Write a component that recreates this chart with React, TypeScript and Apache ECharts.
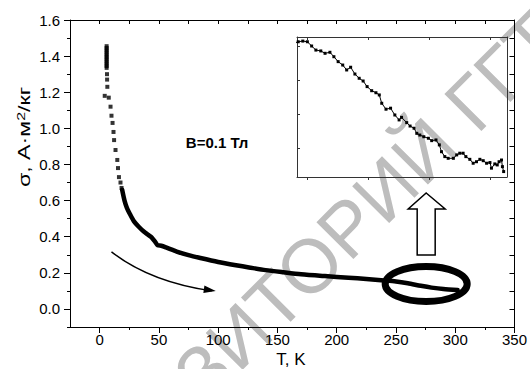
import React, { useEffect, useRef } from "react";
import * as echarts from "echarts";

const FONT = '"Liberation Sans", Arial, sans-serif';

// main axes ticks
const xMajor = [0, 50, 100, 150, 200, 250, 300, 350];
const xMinor = [25, 75, 125, 175, 225, 275, 325];
const xTop = [0, 25, 50, 75, 100, 125, 150, 175, 200, 225, 250, 275, 300, 325, 350];
const yMajor = [0, 0.2, 0.4, 0.6, 0.8, 1.0, 1.2, 1.4, 1.6];
const yMinor = [-0.1, 0.1, 0.3, 0.5, 0.7, 0.9, 1.1, 1.3, 1.5];
const yRight = [-0.1, 0, 0.1, 0.2, 0.3, 0.4, 0.5, 0.6, 0.7, 0.8, 0.9, 1.0, 1.1, 1.2, 1.3, 1.4, 1.5];

// inset axes ticks
const insetX = [240, 260, 280, 300];
const insetY = [0.1, 0.12, 0.14, 0.16];

// sparse low-temperature points (T, sigma)
const sparsePoints: [number, number][] = [
  [5.9, 1.455], [5.9, 1.445], [5.9, 1.435], [5.9, 1.425], [5.9, 1.415], [5.9, 1.405],
  [5.9, 1.395], [5.9, 1.385], [5.9, 1.375], [5.9, 1.365], [5.9, 1.355], [5.9, 1.345],
  [5.9, 1.335], [6.2, 1.3], [6.3, 1.27], [6.5, 1.23], [4.3, 1.18], [7.7, 1.17],
  [9.2, 1.12], [10.0, 1.07], [10.9, 1.03], [11.7, 0.98], [12.2, 0.935], [13.4, 0.88],
  [14.9, 0.825], [15.5, 0.78], [16.3, 0.73], [17.6, 0.7], [18.5, 0.67],
];

// dense curve (T, sigma)
const curvePoints: [number, number][] = [
  [19, 0.66], [21, 0.6], [23, 0.56], [26, 0.52], [29, 0.485], [33, 0.455], [37, 0.43],
  [41, 0.41], [44, 0.395], [47, 0.37], [49, 0.352], [52, 0.35], [57, 0.338], [65, 0.318],
  [75, 0.298], [85, 0.282], [100, 0.26], [115, 0.242], [126, 0.23], [140, 0.215],
  [155, 0.203], [170, 0.192], [190, 0.182], [210, 0.173], [225, 0.166], [240, 0.158],
  [250, 0.152], [260, 0.142], [271, 0.128], [280, 0.118], [290, 0.11], [302, 0.105],
];

// inset data (T, sigma)
const insetPoints: [number, number][] = [
  [235.7, 0.1616], [237.1, 0.1625], [238.6, 0.1629], [240.1, 0.1625], [241.5, 0.16],
  [242.9, 0.1576], [244.5, 0.1571], [245.9, 0.1557], [247.5, 0.1563], [248.8, 0.1537],
  [250.2, 0.1508], [251.7, 0.1488], [253.0, 0.1459], [254.3, 0.1475], [255.7, 0.1435],
  [257.1, 0.141], [258.4, 0.1394], [259.7, 0.1361], [261.2, 0.1337], [262.6, 0.1325],
  [263.7, 0.1312], [264.5, 0.1263], [265.9, 0.1228], [267.4, 0.1234], [268.8, 0.1194],
  [270.2, 0.1165], [271.0, 0.118], [272.7, 0.1149], [273.8, 0.1129], [275.1, 0.1116],
  [276.0, 0.1086], [277.0, 0.1076], [278.3, 0.1066], [279.8, 0.1057], [280.9, 0.1043],
  [282.3, 0.1047], [283.4, 0.1018], [284.1, 0.0978], [285.2, 0.0949], [286.3, 0.0939],
  [288.0, 0.0939], [289.1, 0.0959], [290.1, 0.0969], [291.2, 0.0969], [292.1, 0.0949],
  [293.4, 0.0933], [294.5, 0.091], [295.6, 0.0919], [296.7, 0.0933], [297.8, 0.0925],
  [298.9, 0.091], [300.0, 0.0914], [300.5, 0.0881], [301.6, 0.0906], [302.4, 0.09],
  [303.0, 0.0919], [303.8, 0.0929], [304.1, 0.089], [304.5, 0.0861],
];

// annotation anchors in data coordinates
const ellipseCenter: [number, number] = [275.5, 0.138];
const hollowArrowTip: [number, number] = [275.5, 0.642];
const sweepStart: [number, number] = [10, 0.316];
const sweepCtrl: [number, number] = [42.7, 0.149];
const sweepEnd: [number, number] = [94.6, 0.1];

const fieldLabel = "B=0.1 Тл";
const xName = "T, K";
const watermark = "РЕПОЗИТОРИЙ ГГТУ";

const lineBlack = { color: "#000", width: 1 };

export default function App() {
  const ref = useRef<HTMLDivElement>(null);
  useEffect(() => {
    if (!ref.current) return;
    const chart = echarts.init(ref.current, undefined, { renderer: "svg" });
    const baseX = { type: "value" as const, min: -25, max: 350, splitLine: { show: false } };
    const baseY = { type: "value" as const, min: -0.1, max: 1.6, splitLine: { show: false } };
    const iX = { type: "value" as const, min: 236.7, max: 305.6, splitLine: { show: false } };
    const iY = { type: "value" as const, min: 0.0829, max: 0.1653, splitLine: { show: false } };
    chart.setOption({
      animation: false,
      backgroundColor: "#fff",
      grid: [
        { left: 70, top: 20, width: 447, height: 307 },
        { left: 297, top: 37, width: 210, height: 140 },
      ],
      xAxis: [
        {
          ...baseX, gridIndex: 0, position: "bottom",
          axisLine: { show: true, onZero: false, lineStyle: lineBlack },
          axisTick: { show: true, length: 6, customValues: xMajor, lineStyle: lineBlack },
          axisLabel: { show: true, customValues: xMajor, fontSize: 15, color: "#000", fontFamily: FONT, margin: 5 },
        },
        {
          ...baseX, gridIndex: 0, position: "bottom",
          axisLine: { show: false, onZero: false },
          axisTick: { show: true, length: 3, customValues: xMinor, lineStyle: lineBlack },
          axisLabel: { show: false },
        },
        {
          ...baseX, gridIndex: 0, position: "top",
          axisLine: { show: true, onZero: false, lineStyle: lineBlack },
          axisTick: { show: true, inside: true, length: 4, customValues: xTop, lineStyle: lineBlack },
          axisLabel: { show: false },
        },
        {
          ...iX, gridIndex: 1, position: "bottom",
          axisLine: { show: true, onZero: false, lineStyle: { color: "#333", width: 1 } },
          axisTick: { show: true, length: 3, customValues: insetX, lineStyle: { color: "#333" } },
          axisLabel: { show: false },
        },
        {
          ...iX, gridIndex: 1, position: "top",
          axisLine: { show: true, onZero: false, lineStyle: { color: "#333", width: 1 } },
          axisTick: { show: true, inside: true, length: 3, customValues: insetX, lineStyle: { color: "#333" } },
          axisLabel: { show: false },
        },
      ],
      yAxis: [
        {
          ...baseY, gridIndex: 0, position: "left",
          axisLine: { show: true, onZero: false, lineStyle: lineBlack },
          axisTick: { show: true, length: 6, customValues: yMajor, lineStyle: lineBlack },
          axisLabel: {
            show: true, customValues: yMajor, fontSize: 15, color: "#000", fontFamily: FONT, margin: 10,
            formatter: (v: number) => v.toFixed(1),
          },
        },
        {
          ...baseY, gridIndex: 0, position: "left",
          axisLine: { show: false, onZero: false },
          axisTick: { show: true, length: 3, customValues: yMinor, lineStyle: lineBlack },
          axisLabel: { show: false },
        },
        {
          ...baseY, gridIndex: 0, position: "right",
          axisLine: { show: true, onZero: false, lineStyle: lineBlack },
          axisTick: { show: true, inside: true, length: 5, customValues: yRight, lineStyle: lineBlack },
          axisLabel: { show: false },
        },
        {
          ...iY, gridIndex: 1, position: "left",
          axisLine: { show: true, onZero: false, lineStyle: { color: "#333", width: 1 } },
          axisTick: { show: true, inside: true, length: 3, customValues: insetY, lineStyle: { color: "#333" } },
          axisLabel: { show: false },
        },
        {
          ...iY, gridIndex: 1, position: "right",
          axisLine: { show: true, onZero: false, lineStyle: { color: "#333", width: 1 } },
          axisTick: { show: false },
          axisLabel: { show: false },
        },
      ],
      series: [
        {
          type: "line", xAxisIndex: 0, yAxisIndex: 0, data: curvePoints,
          symbol: "none", smooth: 0.25, z: 3,
          lineStyle: { color: "#000", width: 4.5, join: "round", cap: "round" },
        },
        {
          type: "scatter", xAxisIndex: 0, yAxisIndex: 0, data: sparsePoints,
          symbol: "rect", symbolSize: 4, itemStyle: { color: "#000" }, z: 3,
        },
        {
          type: "line", xAxisIndex: 3, yAxisIndex: 3, data: insetPoints,
          symbol: "rect", symbolSize: 3, showSymbol: true, z: 4,
          lineStyle: { color: "#000", width: 1 }, itemStyle: { color: "#000" },
        },
      ],
    });

    const px = (p: [number, number]) => chart.convertToPixel({ xAxisIndex: 0, yAxisIndex: 0 }, p) as number[];
    const c = px(ellipseCenter);
    const tip = px(hollowArrowTip);
    const s0 = px(sweepStart);
    const s1 = px(sweepCtrl);
    const s2 = px(sweepEnd);
    const ang = Math.atan2(s2[1] - s1[1], s2[0] - s1[0]);
    const hx = (d: number, w: number) => [
      s2[0] + 4 + Math.cos(ang) * d - Math.sin(ang) * w,
      s2[1] + Math.sin(ang) * d + Math.cos(ang) * w,
    ];

    chart.setOption({
      graphic: [
        {
          type: "text", x: 35, y: 540, rotation: Math.PI / 4, z: 0, silent: true,
          style: {
            text: watermark, fill: "#bdbdbd", font: `76px ${FONT}`,
            textAlign: "left", textVerticalAlign: "middle",
          },
        },
        {
          type: "ellipse", z: 100, silent: true,
          shape: { cx: c[0], cy: c[1], rx: 41, ry: 17.5 },
          style: { fill: "none", stroke: "#000", lineWidth: 7 },
        },
        {
          type: "polygon", z: 100, silent: true,
          shape: {
            points: [
              [tip[0], tip[1]], [tip[0] + 19, tip[1] + 16], [tip[0] + 9, tip[1] + 16],
              [tip[0] + 9, tip[1] + 62], [tip[0] - 9, tip[1] + 62], [tip[0] - 9, tip[1] + 16],
              [tip[0] - 18, tip[1] + 16],
            ],
          },
          style: { fill: "#fff", stroke: "#000", lineWidth: 1.5 },
        },
        {
          type: "bezierCurve", z: 100, silent: true,
          shape: { x1: s0[0], y1: s0[1], cpx1: s1[0], cpy1: s1[1], x2: s2[0], y2: s2[1] },
          style: { fill: "none", stroke: "#000", lineWidth: 1.5 },
        },
        {
          type: "polygon", z: 100, silent: true,
          shape: { points: [hx(0, 0), hx(-12, -3.8), hx(-12, 3.8)] },
          style: { fill: "#000" },
        },
        {
          type: "text", x: 217, y: 142, z: 100, silent: true,
          style: {
            text: fieldLabel, fill: "#000", font: `bold 15px ${FONT}`,
            textAlign: "center", textVerticalAlign: "middle",
          },
        },
        {
          type: "text", x: 291, y: 359, z: 100, silent: true,
          style: {
            text: xName, fill: "#000", font: `17px ${FONT}`,
            textAlign: "center", textVerticalAlign: "middle",
          },
        },
        {
          type: "text", x: 24, y: 137, rotation: Math.PI / 2, scaleX: 1.45, z: 100, silent: true,
          style: {
            text: "σ, А·м{s|2}/кг", fill: "#000", font: `16px ${FONT}`,
            textAlign: "center", textVerticalAlign: "middle",
            rich: { s: { fontSize: 11, fontFamily: FONT, verticalAlign: "top", fill: "#000" } },
          },
        },
      ],
    });
    return () => chart.dispose();
  }, []);
  return (
    <div
      ref={ref}
      style={{ position: "fixed", left: 0, top: 0, width: 530, height: 369, background: "#fff" }}
    />
  );
}
